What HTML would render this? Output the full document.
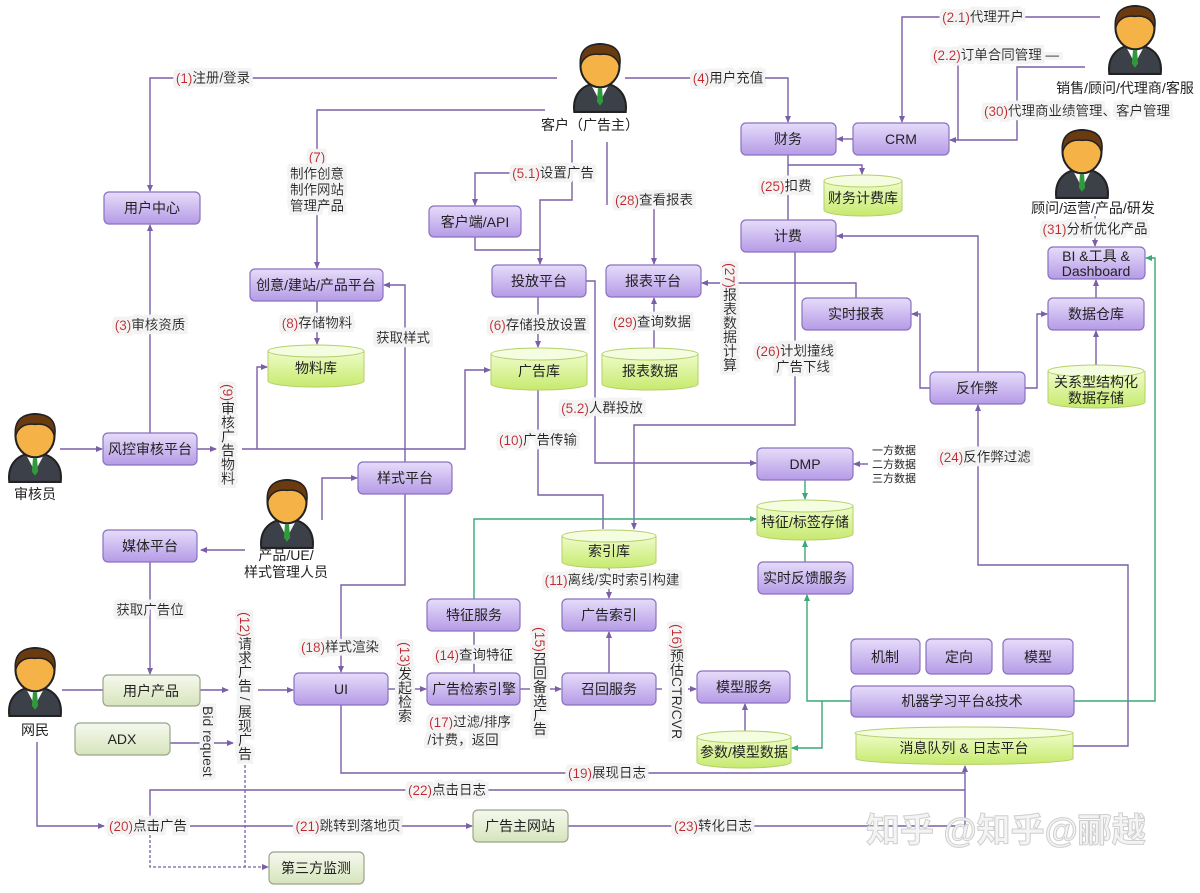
<!DOCTYPE html>
<html><head><meta charset="utf-8"><style>
html,body{margin:0;padding:0;background:#fff}
svg{display:block}
text{font-family:"Liberation Sans","Noto Sans CJK SC",sans-serif;font-size:13px;fill:#222}
.bx{fill:url(#gp);stroke:#8a72bf;stroke-width:1.2}
.gb{fill:url(#gl);stroke:#9aa58a;stroke-width:1.2}
.cy{fill:url(#gc);stroke:#b6cf6a;stroke-width:1}
.ct{fill:#f4fde0;stroke:#b6cf6a;stroke-width:1}
.l{fill:none;stroke:#7a5fa8;stroke-width:1.4}
.g{fill:none;stroke:#3aa878;stroke-width:1.4}
.d{fill:none;stroke:#7a5fa8;stroke-width:1.3;stroke-dasharray:3 2}
.t{text-anchor:middle;dominant-baseline:central;font-size:14px}
.lb{text-anchor:middle;dominant-baseline:central;font-size:13.5px;filter:url(#bg)}
.v{writing-mode:tb;font-size:14px;filter:url(#bg)}
.r{fill:#c0272d}
</style></head><body>
<svg width="1200" height="893" viewBox="0 0 1200 893" xmlns="http://www.w3.org/2000/svg">
<defs>
<filter id="bg" x="-10%" y="-20%" width="120%" height="140%">
<feMorphology in="SourceAlpha" operator="dilate" radius="3.5" result="m"/>
<feFlood flood-color="#f3f3f3"/>
<feComposite in2="m" operator="in" result="b"/>
<feMerge><feMergeNode in="b"/><feMergeNode in="SourceGraphic"/></feMerge>
</filter>
<linearGradient id="gp" x1="0" y1="0" x2="0" y2="1"><stop offset="0" stop-color="#e6dcfa"/><stop offset="1" stop-color="#b59be6"/></linearGradient>
<linearGradient id="gl" x1="0" y1="0" x2="0" y2="1"><stop offset="0" stop-color="#f6f9ee"/><stop offset="1" stop-color="#d6e4bc"/></linearGradient>
<linearGradient id="gc" x1="0" y1="0" x2="0" y2="1"><stop offset="0" stop-color="#effcc9"/><stop offset="1" stop-color="#c6ea6e"/></linearGradient>
<marker id="a" markerWidth="8" markerHeight="8" refX="6" refY="4" orient="auto" markerUnits="userSpaceOnUse"><path d="M0,1 L7,4 L0,7 z" fill="#7a5fa8"/></marker>
<marker id="ag" markerWidth="8" markerHeight="8" refX="6" refY="4" orient="auto" markerUnits="userSpaceOnUse"><path d="M0,1 L7,4 L0,7 z" fill="#3aa878"/></marker>
<symbol id="p" viewBox="0 0 60 70">
<path d="M5,68 C3,50 14,40 30,40 C46,40 57,50 55,68 Z" fill="#3c4048" stroke="#222" stroke-width="2"/>
<path d="M21,41 L30,58 L39,41 Z" fill="#fff"/>
<path d="M28,45 L32,45 L33,58 L30,62 L27,58 Z" fill="#2e9a3a"/>
<ellipse cx="30" cy="23" rx="19" ry="21" fill="#f5b347" stroke="#222" stroke-width="2"/>
<path d="M11,24 C9,5 21,2 30,2 C41,2 52,6 49,24 C47,14 39,11 30,12 C21,11 13,14 11,24 Z" fill="#6a3a10" stroke="#222" stroke-width="1.5"/>
</symbol>
</defs>

<use href="#p" x="566" y="42" width="68" height="72"/>
<text class="t" x="590" y="125">客户（广告主）</text>
<use href="#p" x="1101" y="4" width="68" height="72"/>
<text class="t" x="1125" y="88">销售/顾问/代理商/客服</text>
<use href="#p" x="1048" y="128" width="68" height="72"/>
<text class="t" x="1093" y="208">顾问/运营/产品/研发</text>
<use href="#p" x="1" y="412" width="68" height="72"/>
<text class="t" x="35" y="494">审核员</text>
<use href="#p" x="253" y="478" width="68" height="72"/>
<text class="t" x="286" y="555">产品/UE/</text>
<text class="t" x="286" y="572">样式管理人员</text>
<use href="#p" x="1" y="646" width="68" height="72"/>
<text class="t" x="35" y="730">网民</text>

<path class="l" d="M557,78 H150 V191" marker-end="url(#a)"/>
<path class="l" d="M545,110 H317 V268" marker-end="url(#a)"/>
<path class="l" d="M572,140 V200 H540 V264" marker-end="url(#a)"/>
<path class="l" d="M540,173 H475 V205" marker-end="url(#a)"/>
<path class="l" d="M475,237 V250 H540"/>
<path class="l" d="M607,142 V205"/>
<path class="l" d="M654,205 V264" marker-end="url(#a)"/>
<path class="l" d="M625,78 H788 V122" marker-end="url(#a)"/>
<path class="l" d="M1100,17 H902 V122" marker-end="url(#a)"/>
<path class="l" d="M958,62 V140 H950" marker-end="url(#a)"/>
<path class="l" d="M1085,67 H1017 V140 H958"/>
<path class="l" d="M853,139 H837" marker-end="url(#a)"/>
<path class="l" d="M788,155 V220"/>
<path class="l" d="M788,165 H862 V174" marker-end="url(#a)"/>
<path class="l" d="M978,372 V236 H837" marker-end="url(#a)"/>
<path class="l" d="M795,252 V425 H634 V529" marker-end="url(#a)"/>
<path class="l" d="M856,298 V283 H702" marker-end="url(#a)"/>
<path class="l" d="M654,348 V298" marker-end="url(#a)"/>
<path class="l" d="M586,281 H595 V463 H756" marker-end="url(#a)"/>
<path class="l" d="M538,297 V347" marker-end="url(#a)"/>
<path class="l" d="M538,390 V495 H603 V529"/>
<path class="l" d="M317,301 V344" marker-end="url(#a)"/>
<path class="l" d="M60,449 H102" marker-end="url(#a)"/>
<path class="l" d="M150,433 V225" marker-end="url(#a)"/>
<path class="l" d="M197,449 H216" marker-end="url(#a)"/>
<path class="l" d="M242,449 H465 V370 H490" marker-end="url(#a)"/>
<path class="l" d="M257,449 V367 H267" marker-end="url(#a)"/>
<path class="l" d="M405,462 V285 H384" marker-end="url(#a)"/>
<path class="l" d="M322,520 V478 H357" marker-end="url(#a)"/>
<path class="l" d="M245,550 H201" marker-end="url(#a)"/>
<path class="l" d="M405,494 V585 H341 V672" marker-end="url(#a)"/>
<path class="l" d="M150,562 V674" marker-end="url(#a)"/>
<path class="l" d="M62,690 H103"/>
<path class="l" d="M200,690 H228" marker-end="url(#a)"/>
<path class="l" d="M258,690 H293" marker-end="url(#a)"/>
<path class="l" d="M170,743 H233" marker-end="url(#a)"/>
<path class="l" d="M388,689 H395"/>
<path class="l" d="M414,689 H426" marker-end="url(#a)"/>
<path class="l" d="M520,689 H530"/>
<path class="l" d="M550,689 H561" marker-end="url(#a)"/>
<path class="l" d="M656,689 H662"/>
<path class="l" d="M688,689 H696" marker-end="url(#a)"/>
<path class="l" d="M474,673 V632"/>
<path class="l" d="M609,673 V632" marker-end="url(#a)"/>
<path class="l" d="M609,568 V598" marker-end="url(#a)"/>
<path class="l" d="M745,731 V704" marker-end="url(#a)"/>
<path class="l" d="M868,464 H854" marker-end="url(#a)"/>
<path class="l" d="M1073,746 H1128 V565 H978 V405" marker-end="url(#a)"/>
<path class="l" d="M930,388 H920 V314 H912" marker-end="url(#a)"/>
<path class="l" d="M1025,388 H1037 V314 H1047" marker-end="url(#a)"/>
<path class="l" d="M1096,365 V331" marker-end="url(#a)"/>
<path class="l" d="M1096,298 V280" marker-end="url(#a)"/>
<path class="l" d="M1095,216 V246" marker-end="url(#a)"/>
<path class="l" d="M341,705 V773 H965"/>
<path class="l" d="M150,826 V790 H965"/>
<path class="l" d="M37,742 V826 H104" marker-end="url(#a)"/>
<path class="l" d="M190,826 H472" marker-end="url(#a)"/>
<path class="l" d="M568,826 H965 V766" marker-end="url(#a)"/>
<path class="d" d="M245,765 V867 H268" marker-end="url(#a)"/>
<path class="d" d="M150,835 V867 H245"/>

<path class="g" d="M474,599 V519 H756" marker-end="url(#ag)"/>
<path class="g" d="M805,480 V499" marker-end="url(#ag)"/>
<path class="g" d="M805,562 V541" marker-end="url(#ag)"/>
<path class="g" d="M851,701 H807 V595" marker-end="url(#ag)"/>
<path class="g" d="M822,701 V748 H792" marker-end="url(#ag)"/>
<path class="g" d="M1074,701 H1155 V258 H1146" marker-end="url(#ag)"/>

<g>
<rect class="bx" x="104" y="192" width="96" height="32" rx="5"/><text class="t" x="152" y="208">用户中心</text>
<rect class="bx" x="250" y="269" width="133" height="32" rx="5"/><text class="t" x="316" y="285">创意/建站/产品平台</text>
<rect class="bx" x="429" y="206" width="92" height="31" rx="5"/><text class="t" x="475" y="222">客户端/API</text>
<rect class="bx" x="492" y="265" width="94" height="32" rx="5"/><text class="t" x="539" y="281">投放平台</text>
<rect class="bx" x="741" y="123" width="95" height="32" rx="5"/><text class="t" x="788" y="139">财务</text>
<rect class="bx" x="853" y="123" width="96" height="32" rx="5"/><text class="t" x="901" y="139">CRM</text>
<rect class="bx" x="741" y="220" width="95" height="32" rx="5"/><text class="t" x="788" y="236">计费</text>
<rect class="bx" x="606" y="265" width="95" height="32" rx="5"/><text class="t" x="653" y="281">报表平台</text>
<rect class="bx" x="802" y="298" width="109" height="32" rx="5"/><text class="t" x="856" y="314">实时报表</text>
<rect class="bx" x="930" y="372" width="95" height="32" rx="5"/><text class="t" x="977" y="388">反作弊</text>
<rect class="bx" x="1048" y="298" width="96" height="32" rx="5"/><text class="t" x="1096" y="314">数据仓库</text>
<rect class="bx" x="1048" y="247" width="97" height="32" rx="5"/><text class="t" x="1096" y="256">BI &amp;工具 &amp;</text><text class="t" x="1096" y="271">Dashboard</text>
<rect class="bx" x="103" y="433" width="94" height="32" rx="5"/><text class="t" x="150" y="449">风控审核平台</text>
<rect class="bx" x="358" y="462" width="94" height="32" rx="5"/><text class="t" x="405" y="478">样式平台</text>
<rect class="bx" x="103" y="530" width="94" height="32" rx="5"/><text class="t" x="150" y="546">媒体平台</text>
<rect class="bx" x="757" y="448" width="96" height="32" rx="5"/><text class="t" x="805" y="464">DMP</text>
<rect class="bx" x="758" y="562" width="95" height="32" rx="5"/><text class="t" x="805" y="578">实时反馈服务</text>
<rect class="bx" x="427" y="599" width="93" height="32" rx="5"/><text class="t" x="474" y="615">特征服务</text>
<rect class="bx" x="562" y="599" width="94" height="32" rx="5"/><text class="t" x="609" y="615">广告索引</text>
<rect class="bx" x="294" y="673" width="94" height="32" rx="5"/><text class="t" x="341" y="689">UI</text>
<rect class="bx" x="427" y="673" width="93" height="32" rx="5"/><text class="t" x="474" y="689">广告检索引擎</text>
<rect class="bx" x="562" y="673" width="94" height="32" rx="5"/><text class="t" x="609" y="689">召回服务</text>
<rect class="bx" x="697" y="671" width="93" height="32" rx="5"/><text class="t" x="744" y="687">模型服务</text>
<rect class="bx" x="851" y="639" width="69" height="35" rx="5"/><text class="t" x="885" y="657">机制</text>
<rect class="bx" x="926" y="639" width="66" height="35" rx="5"/><text class="t" x="959" y="657">定向</text>
<rect class="bx" x="1003" y="639" width="70" height="35" rx="5"/><text class="t" x="1038" y="657">模型</text>
<rect class="bx" x="851" y="686" width="223" height="31" rx="5"/><text class="t" x="962" y="701">机器学习平台&amp;技术</text>
</g>

<rect class="gb" x="103" y="675" width="97" height="31" rx="5"/><text class="t" x="151" y="691">用户产品</text>
<rect class="gb" x="75" y="723" width="95" height="32" rx="5"/><text class="t" x="122" y="739">ADX</text>
<rect class="gb" x="473" y="810" width="95" height="32" rx="5"/><text class="t" x="520" y="826">广告主网站</text>
<rect class="gb" x="269" y="852" width="95" height="32" rx="5"/><text class="t" x="316" y="868">第三方监测</text>

<g>
<path class="cy" d="M268,351 V381 A48,6 0 0 0 364,381 V351"/><ellipse class="ct" cx="316" cy="351" rx="48" ry="6"/><text class="t" x="316" y="368">物料库</text>
<path class="cy" d="M491,354 V384 A48,6 0 0 0 587,384 V354"/><ellipse class="ct" cx="539" cy="354" rx="48" ry="6"/><text class="t" x="539" y="371">广告库</text>
<path class="cy" d="M602,354 V384 A48,6 0 0 0 698,384 V354"/><ellipse class="ct" cx="650" cy="354" rx="48" ry="6"/><text class="t" x="650" y="371">报表数据</text>
<path class="cy" d="M824,181 V210 A39,6 0 0 0 902,210 V181"/><ellipse class="ct" cx="863" cy="181" rx="39" ry="6"/><text class="t" x="863" y="198">财务计费库</text>
<path class="cy" d="M1048,371 V402 A48,6 0 0 0 1145,402 V371"/><ellipse class="ct" cx="1096" cy="371" rx="48" ry="6"/><text class="t" x="1096" y="382">关系型结构化</text><text class="t" x="1096" y="398">数据存储</text>
<path class="cy" d="M562,536 V562 A47,6 0 0 0 656,562 V536"/><ellipse class="ct" cx="609" cy="536" rx="47" ry="6"/><text class="t" x="609" y="551">索引库</text>
<path class="cy" d="M757,506 V534 A48,6 0 0 0 853,534 V506"/><ellipse class="ct" cx="805" cy="506" rx="48" ry="6"/><text class="t" x="805" y="522">特征/标签存储</text>
<path class="cy" d="M697,737 V762 A47,6 0 0 0 791,762 V737"/><ellipse class="ct" cx="744" cy="737" rx="47" ry="6"/><text class="t" x="744" y="752">参数/模型数据</text>
<path class="cy" d="M856,733 V759 A109,6 0 0 0 1073,759 V733"/><ellipse class="ct" cx="964" cy="733" rx="109" ry="6"/><text class="t" x="964" y="748">消息队列 &amp; 日志平台</text>
</g>

<text class="lb" x="213" y="78"><tspan class="r">(1)</tspan>注册/登录</text>
<text class="lb" x="317" y="157"><tspan class="r">(7)</tspan></text>
<text class="lb" x="317" y="174">制作创意</text>
<text class="lb" x="317" y="190">制作网站</text>
<text class="lb" x="317" y="206">管理产品</text>
<text class="lb" x="553" y="173"><tspan class="r">(5.1)</tspan>设置广告</text>
<text class="lb" x="654" y="200"><tspan class="r">(28)</tspan>查看报表</text>
<text class="lb" x="728" y="78"><tspan class="r">(4)</tspan>用户充值</text>
<text class="lb" x="983" y="17"><tspan class="r">(2.1)</tspan>代理开户</text>
<text class="lb" x="996" y="55"><tspan class="r">(2.2)</tspan>订单合同管理 —</text>
<text class="lb" x="1077" y="111"><tspan class="r">(30)</tspan>代理商业绩管理、客户管理</text>
<text class="lb" x="786" y="186"><tspan class="r">(25)</tspan>扣费</text>
<text class="lb" x="1095" y="229"><tspan class="r">(31)</tspan>分析优化产品</text>
<text class="lb" x="795" y="351"><tspan class="r">(26)</tspan>计划撞线</text>
<text class="lb" x="803" y="367">广告下线</text>
<text class="v" x="730" y="263"><tspan class="r">(27)</tspan>报表数据计算</text>
<text class="lb" x="652" y="322"><tspan class="r">(29)</tspan>查询数据</text>
<text class="lb" x="602" y="408"><tspan class="r">(5.2)</tspan>人群投放</text>
<text class="lb" x="538" y="325"><tspan class="r">(6)</tspan>存储投放设置</text>
<text class="lb" x="538" y="440"><tspan class="r">(10)</tspan>广告传输</text>
<text class="lb" x="317" y="323"><tspan class="r">(8)</tspan>存储物料</text>
<text class="lb" x="150" y="325"><tspan class="r">(3)</tspan>审核资质</text>
<text class="lb" x="403" y="338">获取样式</text>
<text class="v" x="228" y="384"><tspan class="r">(9)</tspan>审核广告物料</text>
<text class="lb" x="150" y="610">获取广告位</text>
<text class="v" x="245" y="612"><tspan class="r">(12)</tspan>请求广告 / 展现广告</text>
<text class="v" x="208" y="706">Bid request</text>
<text class="lb" x="340" y="647"><tspan class="r">(18)</tspan>样式渲染</text>
<text class="v" x="405" y="642"><tspan class="r">(13)</tspan>发起检索</text>
<text class="lb" x="474" y="655"><tspan class="r">(14)</tspan>查询特征</text>
<text class="lb" x="470" y="722"><tspan class="r">(17)</tspan>过滤/排序</text>
<text class="lb" x="463" y="740">/计费，返回</text>
<text class="v" x="540" y="627"><tspan class="r">(15)</tspan>召回备选广告</text>
<text class="v" x="677" y="624"><tspan class="r">(16)</tspan>预估CTR/CVR</text>
<text class="lb" x="612" y="580"><tspan class="r">(11)</tspan>离线/实时索引构建</text>
<text style="font-size:11px" x="872" y="454">一方数据</text>
<text style="font-size:11px" x="872" y="468">二方数据</text>
<text style="font-size:11px" x="872" y="482">三方数据</text>
<text class="lb" x="985" y="457"><tspan class="r">(24)</tspan>反作弊过滤</text>
<text class="lb" x="607" y="773"><tspan class="r">(19)</tspan>展现日志</text>
<text class="lb" x="447" y="790"><tspan class="r">(22)</tspan>点击日志</text>
<text class="lb" x="148" y="826"><tspan class="r">(20)</tspan>点击广告</text>
<text class="lb" x="348" y="826"><tspan class="r">(21)</tspan>跳转到落地页</text>
<text class="lb" x="713" y="826"><tspan class="r">(23)</tspan>转化日志</text>

<text x="866" y="842" style="font-size:34px;fill:#f4f4f4;stroke:#cfcfcf;stroke-width:1px;font-weight:bold">知乎 @知乎@郦越</text>
</svg>
</body></html>
